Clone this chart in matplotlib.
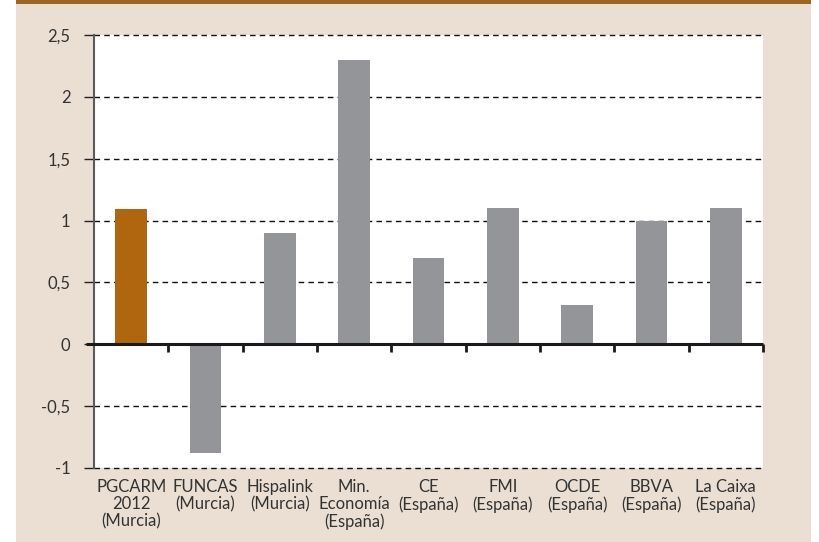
import matplotlib
matplotlib.use("Agg")
import matplotlib.pyplot as plt
from matplotlib.patches import Rectangle
from matplotlib.lines import Line2D

plt.rcParams['font.family'] = ['Lato', 'DejaVu Sans']

categories = ["PGCARM\n2012\n(Murcia)", "FUNCAS\n(Murcia)", "Hispalink\n(Murcia)",
              "Min.\nEconomía\n(España)", "CE\n(España)", "FMI\n(España)",
              "OCDE\n(España)", "BBVA\n(España)", "La Caixa\n(España)"]
values = [1.09, -0.88, 0.90, 2.30, 0.70, 1.10, 0.32, 1.00, 1.10]
yticks = [-1, -0.5, 0, 0.5, 1, 1.5, 2, 2.5]
ytick_labels = ["-1", "-0,5", "0", "0,5", "1", "1,5", "2", "2,5"]

W, H = 820, 542
fig = plt.figure(figsize=(W / 100, H / 100), dpi=100)
fig.patch.set_facecolor("white")

beige = "#ebdfd3"
fig.add_artist(Rectangle((16 / W, 0), (811 - 16) / W, 1, transform=fig.transFigure,
                         facecolor=beige, edgecolor="none", zorder=0))
fig.add_artist(Rectangle((16 / W, 1 - 4 / H), (811 - 16) / W, 4 / H, transform=fig.transFigure,
                         facecolor="#9c6522", edgecolor="none", zorder=1))

left, right = 94 / W, 763 / W
bottom, top = (H - 468) / H, (H - 35) / H
ax = fig.add_axes([left, bottom, right - left, top - bottom])
ax.set_facecolor("white")

n = len(categories)
x = list(range(n))
colors = ["#b0650f"] + ["#939598"] * (n - 1)
ax.bar(x, values, width=0.43, color=colors, zorder=3)

ax.set_xlim(-0.5, n - 0.5)
ax.set_ylim(-1, 2.5)
ax.set_yticks(yticks)
ax.set_yticklabels(ytick_labels)
ax.tick_params(axis="y", length=7, width=1, color="#222222", pad=10,
               labelsize=12, labelcolor="#333333")
ax.set_xticks(x)
ax.set_xticklabels(categories, fontsize=12, color="#333333", linespacing=1.1)
ax.tick_params(axis="x", length=0, pad=8)

for yv in yticks:
    if yv == 0:
        continue
    ax.axhline(yv, color="#111111", lw=1.0, dashes=(4, 3), zorder=1, clip_on=False)

for s in ["top", "right", "bottom"]:
    ax.spines[s].set_visible(False)
ax.spines["left"].set_color("#5a5a5a")
ax.spines["left"].set_linewidth(1.5)
ax.spines["left"].set_zorder(4)

# zero line extending slightly left of the axis
ax.add_line(Line2D([-0.012, 1.0], [0, 0], transform=ax.get_yaxis_transform(),
                   color="#1a1a1a", lw=2.2, clip_on=False, zorder=5,
                   solid_capstyle="butt"))
# category boundary ticks hanging from the zero line
for b in range(1, n + 1):
    ax.add_line(Line2D([b - 0.5, b - 0.5], [0, -0.06], color="#1a1a1a", lw=2,
                       clip_on=False, zorder=5, solid_capstyle="butt"))

fig.savefig("out.png", dpi=100, facecolor=fig.get_facecolor())
